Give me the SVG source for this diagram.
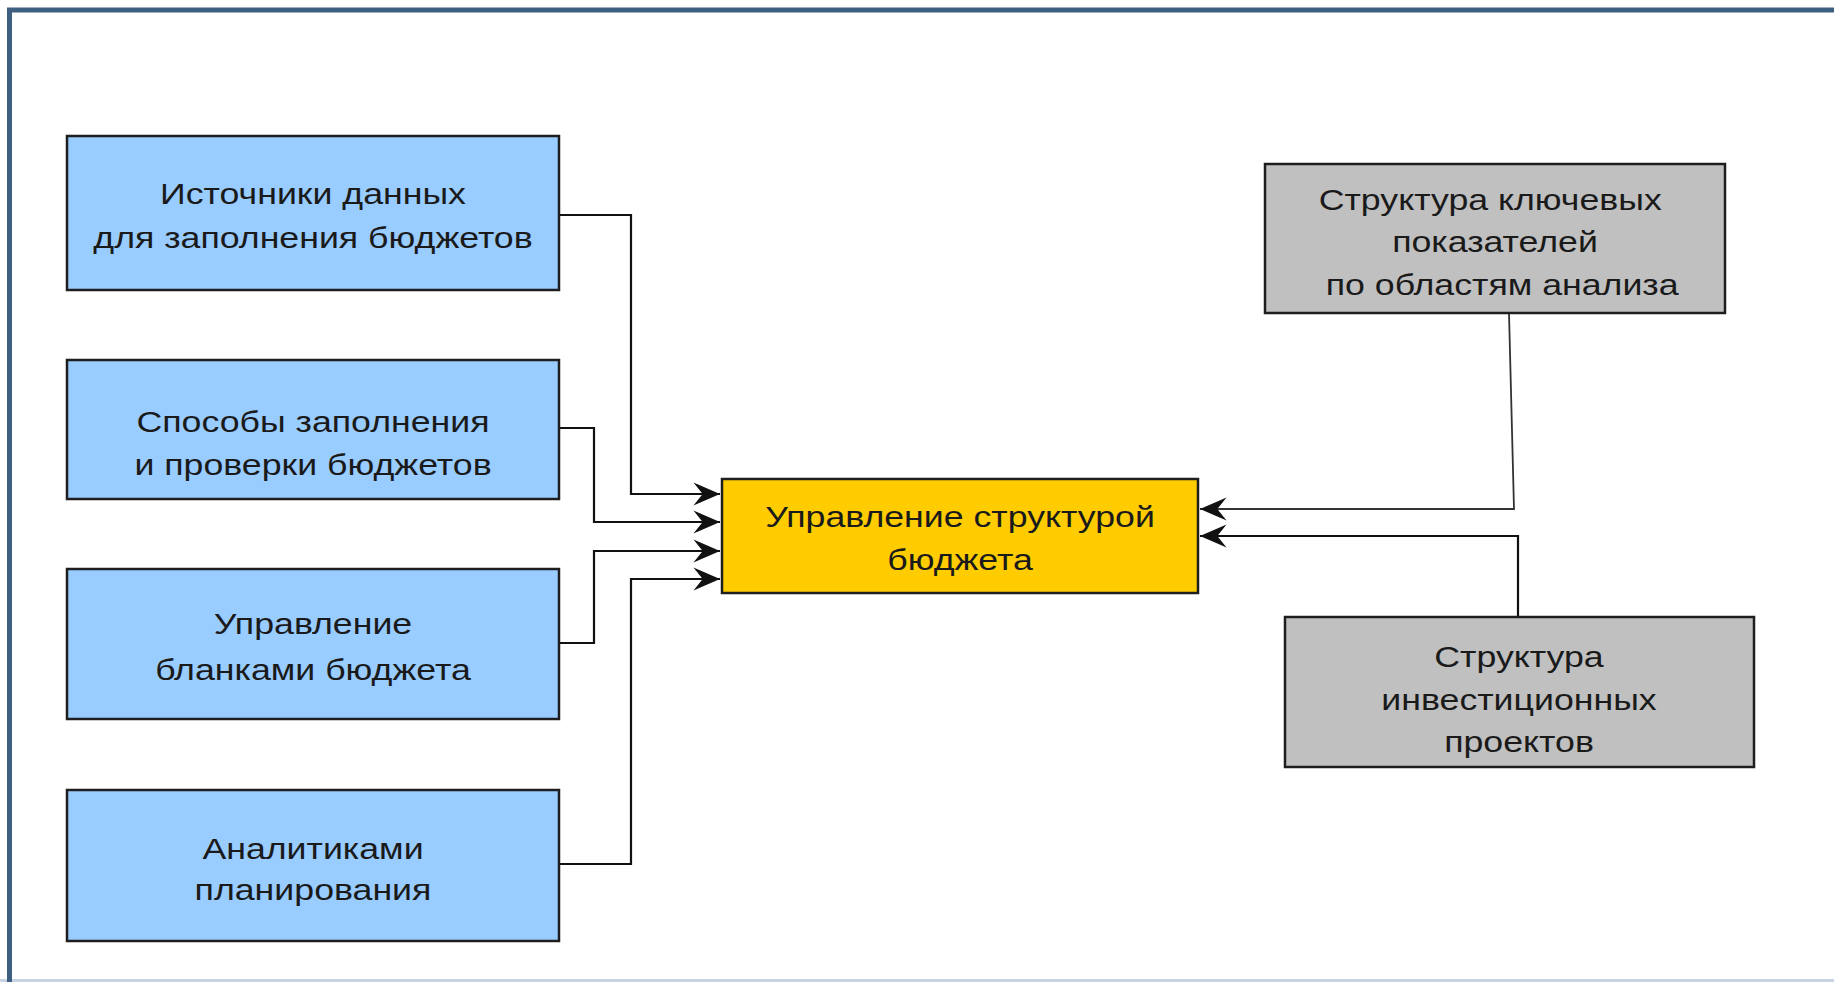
<svg xmlns="http://www.w3.org/2000/svg" width="1834" height="982" viewBox="0 0 1834 982">
<style>
.box{stroke:#1e1e1e;stroke-width:2.5}
.blue{fill:#99ccff}
.gray{fill:#c0c0c0}
.yel{fill:#ffcc00}
.t{font-family:"Liberation Sans",Arial,sans-serif;font-size:30px;fill:#1a1a1a;text-anchor:middle}
.c{fill:none;stroke:#111;stroke-width:2.2}
</style>
<defs>
<marker id="ah" markerUnits="userSpaceOnUse" markerWidth="30" markerHeight="30" viewBox="-24 -12 26 24" refX="0" refY="0" orient="auto">
<path d="M0,0 L-23,-10 L-15,0 L-23,10 Z" fill="#111"/>
</marker>
</defs>
<rect x="0" y="0" width="1834" height="982" fill="#ffffff"/>
<line x1="0" y1="980.5" x2="1834" y2="980.5" stroke="#c8d4e2" stroke-width="3"/>
<path d="M9.5,982 V10 H1834" fill="none" stroke="#3e5f82" stroke-width="5"/>

<g id="connectors">
<path class="c" d="M559,215 H631 V494 H720" marker-end="url(#ah)"/>
<path class="c" d="M559,428 H594 V522 H720" marker-end="url(#ah)"/>
<path class="c" d="M559,643 H594 V551 H720" marker-end="url(#ah)"/>
<path class="c" d="M559,864 H631 V579 H720" marker-end="url(#ah)"/>
<path class="c" d="M1509,313 L1514,509 H1200" marker-end="url(#ah)" style="stroke:#333;stroke-width:1.8"/>
<path class="c" d="M1518,617 V536 H1200" marker-end="url(#ah)"/>
</g>

<g id="n1">
<rect class="box blue" x="67" y="136" width="492" height="154"/>
<g transform="translate(313,0) scale(1.19,1)"><text class="t" x="0" y="204">Источники данных</text><text class="t" x="0" y="248">для заполнения бюджетов</text></g>
</g>
<g id="n2">
<rect class="box blue" x="67" y="360" width="492" height="139"/>
<g transform="translate(313,0) scale(1.19,1)"><text class="t" x="0" y="432">Способы заполнения</text><text class="t" x="0" y="475">и проверки бюджетов</text></g>
</g>
<g id="n3">
<rect class="box blue" x="67" y="569" width="492" height="150"/>
<g transform="translate(313,0) scale(1.19,1)"><text class="t" x="0" y="634">Управление</text><text class="t" x="0" y="680">бланками бюджета</text></g>
</g>
<g id="n4">
<rect class="box blue" x="67" y="790" width="492" height="151"/>
<g transform="translate(313,0) scale(1.19,1)"><text class="t" x="0" y="859">Аналитиками</text><text class="t" x="0" y="900">планирования</text></g>
</g>
<g id="center">
<rect class="box yel" x="722" y="479" width="476" height="114"/>
<g transform="translate(960,0) scale(1.19,1)"><text class="t" x="0" y="527">Управление структурой</text><text class="t" x="0" y="570">бюджета</text></g>
</g>
<g id="g1">
<rect class="box gray" x="1265" y="164" width="460" height="149"/>
<g transform="translate(1495,0) scale(1.19,1)"><text class="t" x="-4" y="210">Структура ключевых</text><text class="t" x="0" y="252">показателей</text><text class="t" x="6" y="295">по областям анализа</text></g>
</g>
<g id="g2">
<rect class="box gray" x="1285" y="617" width="469" height="150"/>
<g transform="translate(1519,0) scale(1.19,1)"><text class="t" x="0" y="667">Структура</text><text class="t" x="0" y="710">инвестиционных</text><text class="t" x="0" y="752">проектов</text></g>
</g>
</svg>
